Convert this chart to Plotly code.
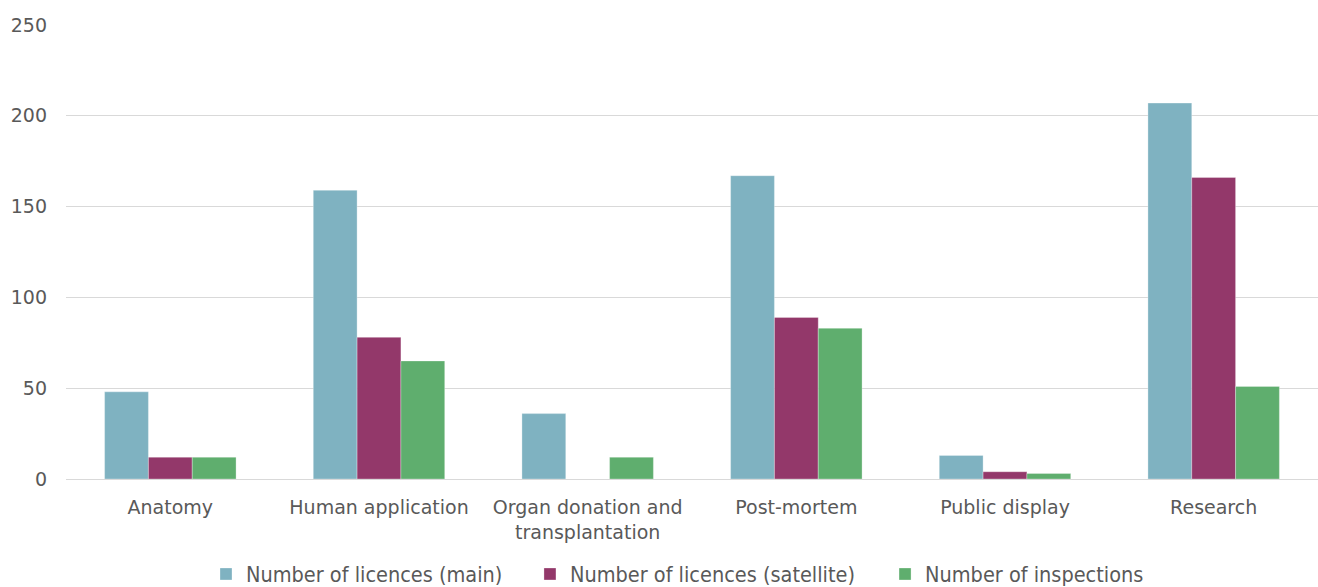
import plotly.graph_objects as go

categories = ["Anatomy", "Human application", "Organ donation and<br>transplantation",
              "Post-mortem", "Public display", "Research"]
licences_main = [48, 159, 36, 167, 13, 207]
licences_satellite = [12, 78, 0, 89, 4, 166]
inspections = [12, 65, 12, 83, 3, 51]
y_ticks = [0, 50, 100, 150, 200, 250]

series = [
    ("Number of licences (main)", licences_main, "#7fb2c1", "legend", 0.1563),
    ("Number of licences (satellite)", licences_satellite, "#93386a", "legend2", 0.4021),
    ("Number of inspections", inspections, "#5fae6e", "legend3", 0.6715),
]

tick_font = dict(family="DejaVu Sans, sans-serif", size=19, color="#595959")
legend_font = dict(family="Liberation Sans Narrow, DejaVu Sans Condensed, Liberation Sans, sans-serif",
                   size=21.5, color="#595959")

fig = go.Figure()
for name, vals, color, leg, _ in series:
    fig.add_trace(go.Bar(
        x=categories, y=vals, name=name, legend=leg, showlegend=True,
        marker=dict(color=color, line=dict(color="rgba(255,255,255,0.6)", width=0.5)),
    ))

legends = {}
for _, _, _, leg, xpos in series:
    legends[leg] = dict(orientation="h", xref="container", yref="container",
                        x=xpos, xanchor="left", y=13 / 587, yanchor="middle",
                        font=legend_font, itemwidth=30, bgcolor="rgba(0,0,0,0)")

fig.update_layout(
    width=1318, height=587,
    margin=dict(l=66, r=0, t=25, b=108, autoexpand=False),
    paper_bgcolor="white", plot_bgcolor="white",
    showlegend=True,
    barmode="group", bargap=0.37, bargroupgap=0,
    font=tick_font,
    xaxis=dict(showline=False, ticks="", ticklabelstandoff=15, tickfont=tick_font),
    yaxis=dict(range=[0, 250], tickvals=y_ticks, showgrid=True, gridcolor="#d9d9d9",
               gridwidth=1, zeroline=True, zerolinecolor="#d9d9d9", zerolinewidth=1,
               ticks="", ticklabelstandoff=18, tickfont=tick_font),
    **legends,
)

fig.write_html("out.html")
